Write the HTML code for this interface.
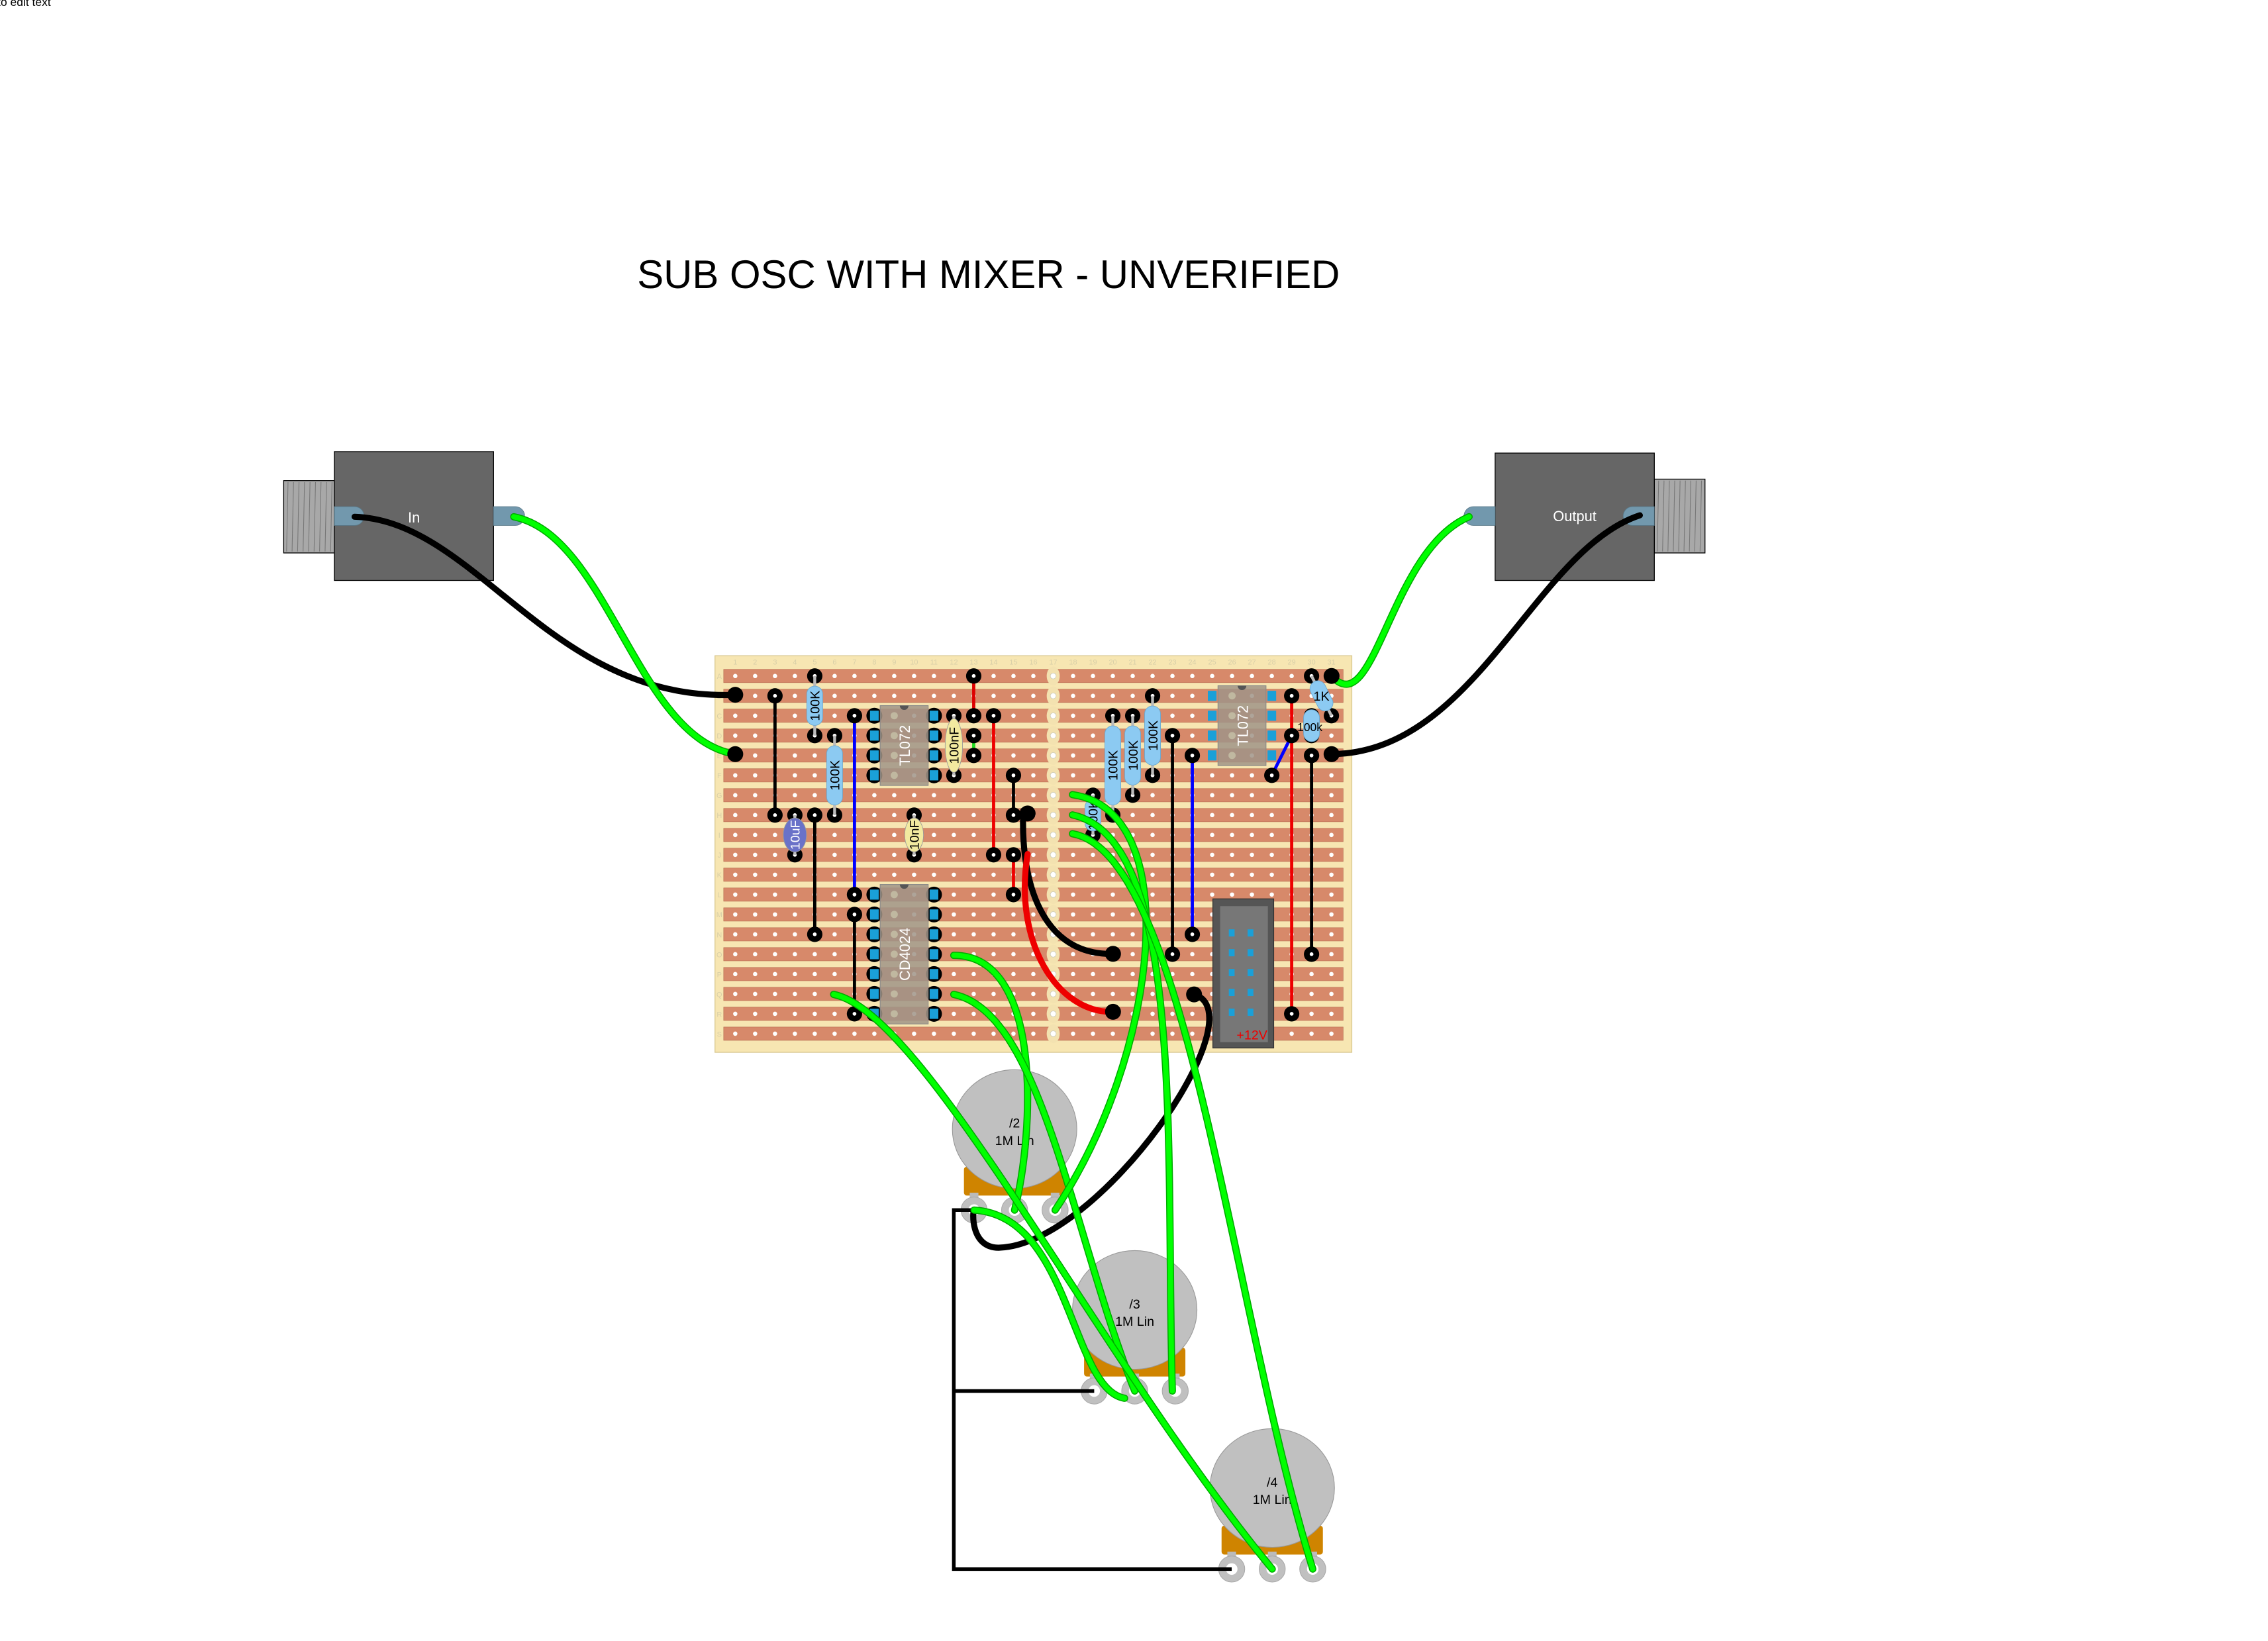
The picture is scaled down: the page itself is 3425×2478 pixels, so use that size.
<!DOCTYPE html>
<html><head><meta charset="utf-8"><style>
html,body{margin:0;padding:0;background:#fff;}
svg{display:block;font-family:"Liberation Sans",sans-serif;}
</style></head><body>
<svg id="s" xmlns="http://www.w3.org/2000/svg" width="3425" height="2478" viewBox="0 0 1567 1133.7">
<text x="-8" y="4" font-size="8" fill="#000">k to edit text</text>
<text x="683" y="199" font-size="27.4" text-anchor="middle" fill="#000">SUB OSC WITH MIXER - UNVERIFIED</text>
<rect x="196" y="332" width="36" height="50" fill="#a8a8a8" stroke="#000" stroke-width="0.6"/>
<g stroke="#777" stroke-width="0.5" id="knurl1"></g>
<rect x="231" y="312" width="110" height="89" fill="#666" stroke="#000" stroke-width="0.6"/>
<path d="M231,350 h14 a6.5,6.5 0 0 1 0,13 h-14z" fill="#7298ad" stroke="#5a7a8a" stroke-width="0.4"/>
<path d="M341,350 h15 a6.5,6.5 0 0 1 0,13 h-15z" fill="#7298ad" stroke="#5a7a8a" stroke-width="0.4"/>
<text x="286" y="361" font-size="10" fill="#fff" text-anchor="middle">In</text>
<rect x="1143" y="331" width="35" height="51" fill="#a8a8a8" stroke="#000" stroke-width="0.6"/>
<g stroke="#777" stroke-width="0.5" id="knurl2"></g>
<rect x="1033" y="313" width="110" height="88" fill="#666" stroke="#000" stroke-width="0.6"/>
<path d="M1033,350 h-15 a6.5,6.5 0 0 0 0,13 h15z" fill="#7298ad" stroke="#5a7a8a" stroke-width="0.4"/>
<path d="M1143,350 h-15 a6.5,6.5 0 0 0 0,13 h15z" fill="#7298ad" stroke="#5a7a8a" stroke-width="0.4"/>
<text x="1088" y="360" font-size="10" fill="#fff" text-anchor="middle">Output</text>
<g id="board"></g>
<g id="pots"></g>
<g id="wires"></g>
</svg>
<script>
var NS="http://www.w3.org/2000/svg";
function el(p,t,a,txt){var e=document.createElementNS(NS,t);for(var k in a)e.setAttribute(k,a[k]);if(txt!=null)e.textContent=txt;p.appendChild(e);return e;}
var k1=document.getElementById('knurl1'),k2=document.getElementById('knurl2');
for(var i=0;i<9;i++){el(k1,'line',{x1:199+i*3.8,y1:333,x2:198+i*3.8,y2:381});el(k2,'line',{x1:1146+i*3.7,y1:332,x2:1145+i*3.7,y2:381});}
var B=document.getElementById('board'),W=document.getElementById('wires'),PO=document.getElementById('pots');
var R="ABCDEFGHIJKLMNOPQRS";
function X(c){return 508+(c-1)*13.73;}function Y(r){if(typeof r=='string')r=R.indexOf(r)+1;return 467+(r-1)*13.73;}
el(B,'rect',{x:494,y:453,width:440,height:274,fill:"#f7e6b2",stroke:"#d8c890","stroke-width":0.6});
for(var r=1;r<=19;r++){el(B,'rect',{x:500,y:Y(r)-4.6,width:428,height:9.2,fill:"#d7896a",stroke:"#b86e52","stroke-width":0.3});}
for(var c=1;c<=31;c++){el(B,'text',{x:X(c),y:459,"font-size":5,fill:"#d8cfa8","text-anchor":"middle"},c);
 for(var r=1;r<=19;r++){ if(c==17){el(B,'ellipse',{cx:X(c),cy:Y(r),rx:4.5,ry:6.5,fill:"#f3e2b0"});el(B,'circle',{cx:X(c),cy:Y(r),r:2,fill:"#fff",stroke:"#ccb","stroke-width":0.4});}
 else el(B,'circle',{cx:X(c),cy:Y(r),r:1.5,fill:"#fff"});}}
for(var r=1;r<=19;r++)el(B,'text',{x:497,y:Y(r)+2,"font-size":5,fill:"#d8cfa8","text-anchor":"middle"},R[r-1]);
function pad(g,c,r,big){var x=X(c),y=Y(r);el(g,'circle',{cx:x,cy:y,r:big?6:5.3,fill:"#000"});if(!big)el(g,'circle',{cx:x,cy:y,r:1.3,fill:"#fff"});}
function link(c1,r1,c2,r2,col){el(B,'line',{x1:X(c1),y1:Y(r1),x2:X(c2),y2:Y(r2),stroke:col,"stroke-width":2.2});}
function res(c1,r1,c2,r2,lab,color){var x1=X(c1),y1=Y(r1),x2=X(c2),y2=Y(r2);pad(B,c1,r1);pad(B,c2,r2);
 el(B,'line',{x1:x1,y1:y1,x2:x2,y2:y2,stroke:"#bbb","stroke-width":2});
 var mx=(x1+x2)/2,my=(y1+y2)/2,len=Math.hypot(x2-x1,y2-y1),ang=Math.atan2(y2-y1,x2-x1)*180/Math.PI;var bl=Math.max(len-14,22);
 var g=el(B,'g',{transform:"translate("+mx+","+my+") rotate("+ang+")"});
 el(g,'rect',{x:-bl/2,y:-5.5,width:bl,height:11,rx:5.5,fill:color||"#8ccaf2",stroke:"#6aa8d0","stroke-width":0.4});
 if(lab){el(g,'text',{x:0,y:3.3,"font-size":9,"text-anchor":"middle",fill:"#000",transform:(ang>0?"rotate(180)":"")},lab);}}
function jl(c1,r1,c2,r2,col){link(c1,r1,c2,r2,col);pad(B,c1,r1);pad(B,c2,r2);}
jl(3,'B',3,'H','#000');jl(5,'H',5,'N','#000');jl(7,'C',7,'L','#00f');jl(13,'A',13,'C','#d00');jl(13,'D',13,'E','#2d2');
jl(14,'C',14,'J','#e00');jl(7,'M',7,'R','#000');jl(15,'F',15,'H','#000');jl(15,'J',15,'L','#e00');
jl(23,'D',23,'O','#000');jl(24,'E',24,'N','#00f');jl(29,'B',29,'R','#e00');jl(30,'E',30,'O','#000');jl(28,'F',29,'D','#00f');
res(5,'A',5,'D','100K');res(6,'D',6,'H','100K');
res(19,'G',19,'I','100K');res(20,'C',20,'H','100K');res(21,'C',21,'G','100K');res(22,'B',22,'F','100K');
res(30,'A',31,'C','');res(30,'C',30,'D','');
el(B,'text',{x:913,y:484,"font-size":9,fill:"#000","text-anchor":"middle"},"1K");
el(B,'text',{x:905,y:505,"font-size":8,fill:"#000","text-anchor":"middle"},"100k");
function cap(c1,r1,c2,r2,fill,lab,w){pad(B,c1,r1);pad(B,c2,r2);el(B,'line',{x1:X(c1),y1:Y(r1),x2:X(c2),y2:Y(r2),stroke:"#bbb","stroke-width":2});
 var mx=X(c1),my=(Y(r1)+Y(r2))/2;el(B,'ellipse',{cx:mx,cy:my,rx:w,ry:(Y(r2)-Y(r1))/2-2,fill:fill,stroke:"#999","stroke-width":0.4});
 el(B,'text',{x:0,y:3.3,"font-size":9,"text-anchor":"middle",fill:lab=="10uF"?"#fff":"#000",transform:"translate("+mx+","+my+") rotate(-90)"},lab);}
cap(12,'C',12,'F',"#f2eaa0","100nF",6);cap(10,'H',10,'J',"#f2eaa0","10nF",6.5);cap(4,'H',4,'J',"#6a72c8","10uF",8);
function ic(c1,r1,c2,r2,lab,nopad){for(var r=Y(r1);r<=Y(r2)+0.1;r+=13.73){[c1,c2].forEach(function(c){if(!nopad)el(B,'circle',{cx:X(c),cy:r,r:5.5,fill:"#000"});el(B,'rect',{x:X(c)-3,y:r-3.5,width:6,height:7,fill:"#1aa0d8"});});}
 var x=X(c1)+4,y=Y(r1)-7,w=X(c2)-X(c1)-8,h=Y(r2)-Y(r1)+14;el(B,'rect',{x:x,y:y,width:w,height:h,fill:"rgba(160,148,135,0.85)",stroke:"#888","stroke-width":0.5});
 el(B,'path',{d:"M"+(x+w/2-3)+","+y+" a3,3 0 0 0 6,0z",fill:"#555"});
 for(var r=Y(r1);r<=Y(r2)+0.1;r+=13.73){el(B,'circle',{cx:X(c1+1),cy:r,r:2.5,fill:"#c0b8a0"});}
 el(B,'text',{x:0,y:4,"font-size":10,"text-anchor":"middle",fill:"#fff",transform:"translate("+(x+w/2)+","+(y+h/2)+") rotate(-90)"},lab);}
ic(8,'C',11,'F',"TL072");ic(8,'L',11,'R',"CD4024");ic(25,'B',28,'E',"TL072",true);
el(B,'rect',{x:838,y:621,width:42,height:103,fill:"#555",stroke:"#333","stroke-width":0.6});
el(B,'rect',{x:843,y:626,width:33,height:94,fill:"#777"});
for(var r=0;r<5;r++){el(B,'rect',{x:849,y:642+r*13.7,width:4,height:5,fill:"#1aa0d8"});el(B,'rect',{x:862,y:642+r*13.7,width:4,height:5,fill:"#1aa0d8"});}
el(B,'text',{x:865,y:718,"font-size":9,fill:"#e00","text-anchor":"middle"},"+12V");
function pot(cx,cy,lab){var ly=cy+56;
 el(PO,'rect',{x:cx-35,y:cy+26,width:70,height:20,rx:2,fill:"#cf8400"});
 [-28,0,28].forEach(function(d){el(PO,'rect',{x:cx+d-3,y:cy+44,width:6,height:8,fill:"#bbb"});});
 el(PO,'ellipse',{cx:cx,cy:cy,rx:43,ry:41,fill:"#c0c0c0",stroke:"#999","stroke-width":0.5});
 el(PO,'text',{x:cx,y:cy-1,"font-size":9,"text-anchor":"middle"},lab);el(PO,'text',{x:cx,y:cy+11,"font-size":9,"text-anchor":"middle"},"1M Lin");
 [-28,0,28].forEach(function(d){el(PO,'circle',{cx:cx+d,cy:ly,r:9,fill:"#c0c0c0",stroke:"#aaa","stroke-width":0.5});el(PO,'circle',{cx:cx+d,cy:ly,r:4,fill:"#fff"});});}
pot(701,780,"/2");pot(784,905,"/3");pot(879,1028,"/4");
el(PO,'path',{d:"M673,836 H659 V1084 H851 M659,961 H756",fill:"none",stroke:"#000","stroke-width":2.5});
function w(d,col){if(col=="g"){el(W,'path',{d:d,fill:"none",stroke:"#0a0","stroke-width":5,"stroke-linecap":"round"});el(W,'path',{d:d,fill:"none",stroke:"#0f0","stroke-width":3.6,"stroke-linecap":"round"});}
 else el(W,'path',{d:d,fill:"none",stroke:col=="r"?"#e00":"#000","stroke-width":4.2,"stroke-linecap":"round"});}
w("M245,357 C330,360 380,485 508,480","k");
w("M355,357 C420,370 440,510 508,521","g");
w("M1133,356 C1060,380 1020,520 920,521","k");
w("M1015,357 C960,380 950,500 920,467","g");
w("M707,560 C705,610 720,660 769,659","k");
w("M710,590 C700,650 730,700 769,699","r");
w("M825,687 C870,700 760,860 690,862 C670,862 672,836 673,836","k");
w("M659,660 C720,660 715,780 701,836","g");
w("M659,687 C720,700 740,850 784,961","g");
w("M576,687 C640,700 760,940 879,1084","g");
w("M741,549 C820,560 800,730 729,836","g");
w("M741,563 C820,580 805,800 810,961","g");
w("M741,576 C820,590 850,900 907,1084","g");
w("M673,836 C740,840 740,960 777,966","g");
[[508,480],[508,521],[920,521],[920,467],[825,687],[769,659],[769,699],[710,562]].forEach(function(p){el(W,'circle',{cx:p[0],cy:p[1],r:5.5,fill:"#000"});});
</script>
</body></html>
